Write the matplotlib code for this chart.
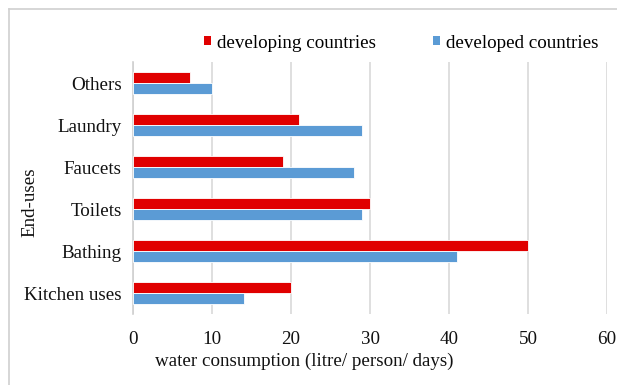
import numpy as np
import matplotlib.pyplot as plt
from matplotlib.patches import Patch
from matplotlib.lines import Line2D

plt.rcParams['font.family'] = ['Liberation Serif', 'DejaVu Serif']

# Water use per end-use (litre / person / day)
categories = ["Kitchen uses", "Bathing", "Toilets", "Faucets", "Laundry", "Others"]
developing = [20, 50, 30, 19, 21, 7.2]
developed = [14, 41, 29, 28, 29, 10]

red = "#E00000"
blue = "#5B9BD5"
fs = 13.7

fig = plt.figure(figsize=(6.17, 3.85), dpi=100)
ax = fig.add_axes([133 / 617, 1 - 314 / 385, 474 / 617, 252 / 385])

y = np.arange(len(categories))
h = 0.25
ax.barh(y + 0.135, developing, height=h, color=red, edgecolor="white", linewidth=0.6, zorder=3)
ax.barh(y - 0.135, developed, height=h, color=blue, edgecolor="white", linewidth=0.6, zorder=3)

ax.set_xlim(0, 60)
ax.set_ylim(-0.5, len(categories) - 0.5)
ax.set_xticks(np.arange(0, 61, 10))
ax.set_yticks(y)
ax.set_yticklabels(categories)
ax.tick_params(axis="both", length=0, labelsize=fs, colors="#111111")
ax.tick_params(axis="x", pad=12)
ax.tick_params(axis="y", pad=8)

ax.grid(axis="x", color="#d9d9d9", linewidth=1.2, zorder=0)
for s in ("top", "right", "bottom"):
    ax.spines[s].set_visible(False)
ax.spines["left"].set_color("#d0d0d0")
ax.spines["left"].set_linewidth(1.2)

ax.set_xlabel("water consumption (litre/ person/ days)", fontsize=fs, color="#111111")
ax.xaxis.set_label_coords((304 - 133) / 474, -(361 - 314) / 252)
ax.xaxis.label.set_verticalalignment("center")
ax.set_ylabel("End-uses", fontsize=fs, color="#111111")
ax.yaxis.set_label_coords((30 - 133) / 474, (314 - 202) / 252)
ax.yaxis.label.set_verticalalignment("center")

handles = [Patch(facecolor=red, edgecolor="none"), Patch(facecolor=blue, edgecolor="none")]
fig.legend(handles, ["developing countries", "developed countries"],
           loc="center", bbox_to_anchor=(401 / 617, 1 - 43 / 385), ncol=2,
           frameon=False, fontsize=fs, handlelength=0.38, handleheight=0.38,
           handletextpad=0.3, columnspacing=3.0, borderpad=0)

# chart frame (left and top edges)
fig.add_artist(Line2D([8.5 / 617, 8.5 / 617], [0, 1 - 8.5 / 385], transform=fig.transFigure,
                      color="#d0d0d0", linewidth=1.2))
fig.add_artist(Line2D([8.5 / 617, 1], [1 - 8.5 / 385, 1 - 8.5 / 385], transform=fig.transFigure,
                      color="#d0d0d0", linewidth=1.2))

fig.savefig("out.png", dpi=100)
